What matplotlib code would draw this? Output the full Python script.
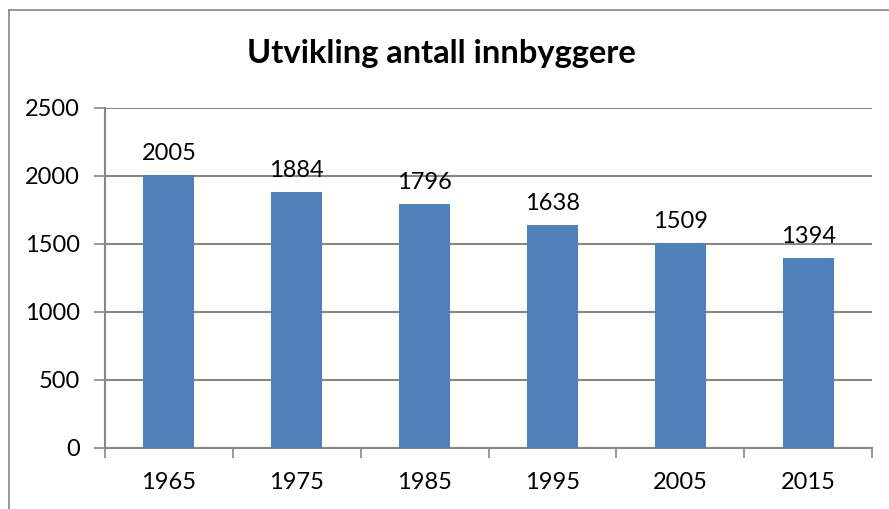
import matplotlib
matplotlib.use("Agg")
import matplotlib.pyplot as plt
from matplotlib.lines import Line2D

years = ["1965", "1975", "1985", "1995", "2005", "2015"]
values = [2005, 1884, 1796, 1638, 1509, 1394]
yticks = [0, 500, 1000, 1500, 2000, 2500]
title = "Utvikling antall innbyggere"

W, H = 889, 509
fig = plt.figure(figsize=(W / 100, H / 100), dpi=100)
plt.rcParams['font.family'] = ['Lato', 'DejaVu Sans']

grid_c = "#868686"
bar_c = "#4F81BD"
fs = 17

# outer chart border (left and top visible)
fig.add_artist(Line2D([9 / W, 9 / W], [0, 1 - 10 / H], transform=fig.transFigure, color=grid_c, lw=1.2))
fig.add_artist(Line2D([9 / W, 1], [1 - 10 / H, 1 - 10 / H], transform=fig.transFigure, color=grid_c, lw=1.2))

left, right = 105 / W, 872 / W
bottom, top = (H - 448) / H, (H - 108) / H
ax = fig.add_axes([left, bottom, right - left, top - bottom])

x = list(range(len(years)))
bars = ax.bar(x, values, width=0.4, color=bar_c, zorder=3)
for xi, v in zip(x, values):
    ax.annotate(str(v), (xi, v), xytext=(0, 8), textcoords="offset points",
                ha="center", va="bottom", fontsize=fs, color="black")

ax.set_xlim(-0.5, len(years) - 0.5)
ax.set_ylim(0, 2500)
ax.set_yticks(yticks)
ax.set_yticklabels([str(t) for t in yticks], fontsize=fs)
ax.yaxis.grid(True, color=grid_c, lw=1.5, zorder=0)
ax.set_axisbelow(True)

ax.set_xticks([i - 0.5 for i in range(len(years) + 1)], minor=False)
ax.set_xticklabels([])
ax.set_xticks(x, minor=True)
ax.set_xticklabels(years, minor=True, fontsize=fs)
ax.tick_params(axis="x", which="major", length=7, width=1.2, color=grid_c, direction="out")
ax.tick_params(axis="x", which="minor", length=0, pad=17)
ax.tick_params(axis="y", length=8, width=1.2, color=grid_c, direction="out", pad=10)

for s in ["top", "right"]:
    ax.spines[s].set_visible(False)
for s in ["left", "bottom"]:
    ax.spines[s].set_color(grid_c)
    ax.spines[s].set_linewidth(1.5)

fig.text(441 / W, 1 - 53 / H, title, ha="center", va="center",
         fontsize=23.5, fontweight="bold")

fig.savefig("out.png", dpi=100)
